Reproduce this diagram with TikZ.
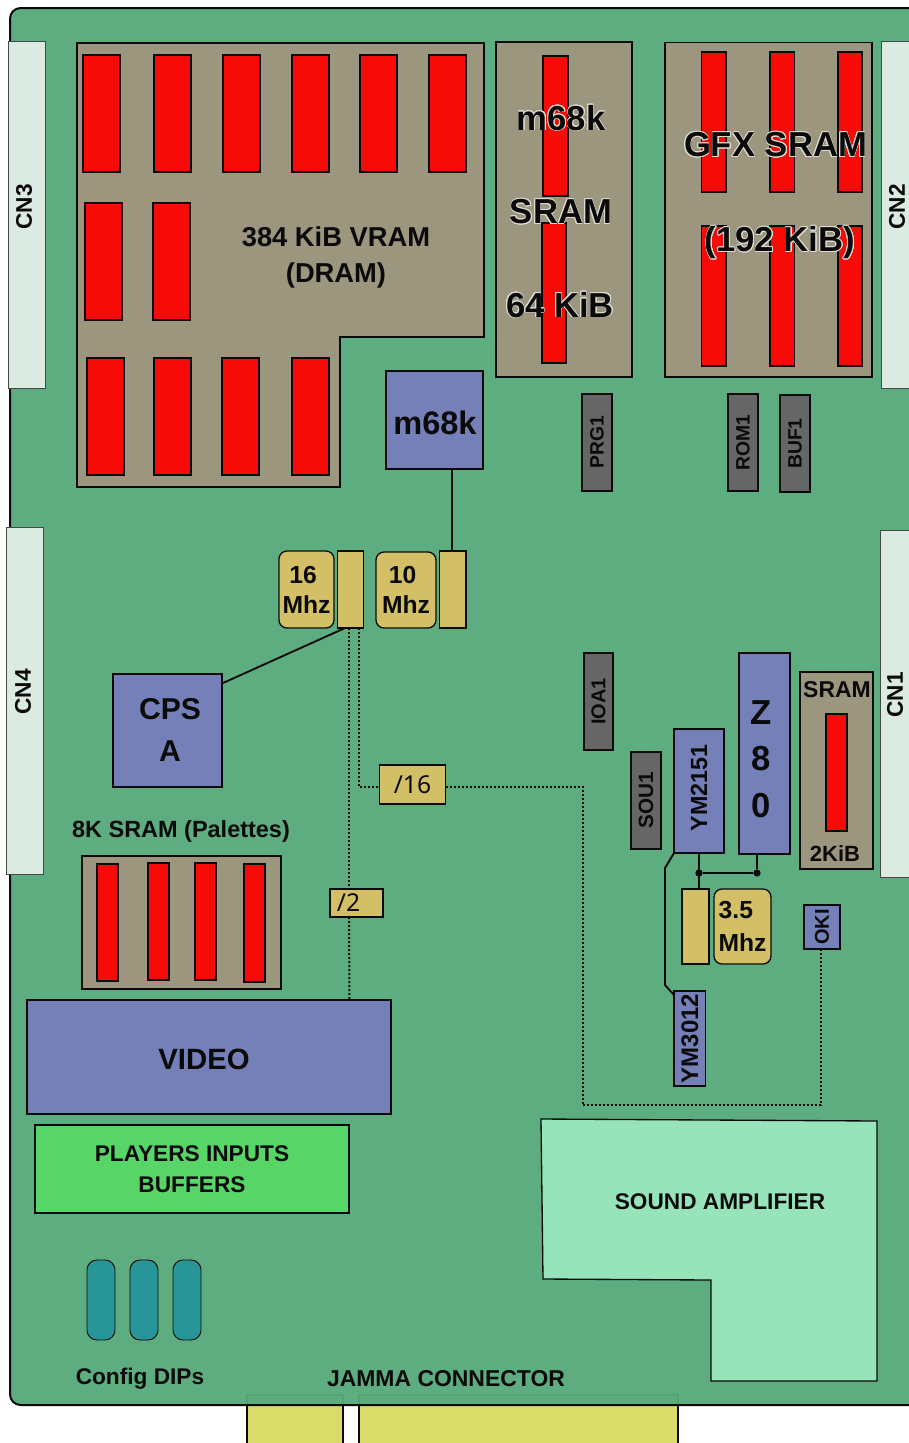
\documentclass[tikz,border=0pt]{standalone}
\usepackage{fontspec}
\usepackage{graphicx}
\usepackage{contour}
\usetikzlibrary{calc}
\setmainfont{Liberation Sans}
\newfontfamily\regfont{Noto Sans}
\definecolor{pcb}{HTML}{57AA7B}
\definecolor{ink}{HTML}{0A0A0A}
\definecolor{ramgrey}{HTML}{9C967F}
\definecolor{ramred}{HTML}{F60B07}
\definecolor{chipblue}{HTML}{7480B7}
\definecolor{chipgrey}{HTML}{666666}
\definecolor{clockyel}{HTML}{D3BF66}
\definecolor{connpale}{HTML}{DBEBE1}
\definecolor{jammay}{HTML}{D9DC68}
\definecolor{inputgreen}{HTML}{57D667}
\definecolor{ampgreen}{HTML}{97E4BA}
\definecolor{diprteal}{HTML}{289698}
\newcommand\bfs[2]{\fontsize{#1}{#2}\selectfont\bfseries}
\newcommand\vlab[2]{\rotatebox{90}{\bfs{#1}{#1}#2}}
\contourlength{0.5pt}
\contournumber{24}
\newcommand\halo[1]{\contour{ramgrey!35!white}{#1}}
% \bx{style}{name}{x0}{y0}{x1}{y1}{text}
\newcommand\bx[7]{%
  \pgfmathsetmacro\bxw{(#5-(#3))*0.75}%
  \pgfmathsetmacro\bxh{(#6-(#4))*0.75}%
  \node[#1,minimum width=\bxw pt,minimum height=\bxh pt] (#2) at ({(#3+#5)/2},{(#4+#6)/2}) {#7};}
\tikzset{
  base/.style={draw=ink,line width=1pt,inner sep=0pt,outer sep=0pt,text=ink,align=center},
  conn/.style={base,fill=connpale,draw=ink!75!white,line width=0.7pt},
  ram/.style={base,fill=ramgrey},
  cell/.style={base,fill=ramred},
  cpu/.style={base,fill=chipblue},
  rom/.style={base,fill=chipgrey},
  xtal/.style={base,fill=clockyel},
  osc/.style={base,fill=clockyel,rounded corners=6pt,font=\bfs{18.5}{22.5}},
  dip/.style={base,fill=diprteal,rounded corners=7.5pt,line width=0.7pt},
  lab/.style={inner sep=0pt,outer sep=0pt,text=ink,align=center},
  wire/.style={draw=ink,line width=1.4pt},
  clk/.style={draw=ink,line width=1.5pt,dash pattern=on 1.5pt off 1.5pt},
  jdot/.style={circle,fill=ink,inner sep=0pt,outer sep=0pt,minimum size=5.5pt}
}
\begin{document}
\begin{tikzpicture}[x=0.75pt,y=-0.75pt]
\clip (0,0) rectangle (909,1443);
\fill[white] (0,0) rectangle (909,1443);
% JAMMA fingers behind the board
\bx{base,fill=jammay}{jammaA}{247}{1395}{343}{1450}{}
\bx{base,fill=jammay}{jammaB}{359}{1395}{678}{1450}{}
% board
\draw[fill=pcb,fill opacity=0.96,draw=ink,line width=1.5pt,rounded corners=8pt]
  (920,8) -- (10,8) -- (10,1405) -- (920,1405);
% edge connectors
\bx{conn}{cnthree}{8}{41}{45}{388}{}
\bx{conn}{cnfour}{6}{527}{43}{874}{}
\bx{conn}{cntwo}{881}{41}{920}{388}{}
\bx{conn}{cnone}{880}{530}{920}{877}{}
\node[lab] (cnthreet) at (24,207) {\vlab{17}{CN3}};
\node[lab] (cnfourt) at (23,692) {\vlab{17}{CN4}};
\node[lab] (cntwot) at (897,207) {\vlab{17}{CN2}};
\node[lab] (cnonet) at (895,695) {\vlab{17}{CN1}};
% VRAM
\draw[fill=ramgrey,draw=ink,line width=1pt] (77,43) -- (484,43) -- (484,337) -- (340,337) -- (340,487) -- (77,487) -- cycle;
\bx{cell}{va}{83}{55}{120}{172}{}
\bx{cell}{vb}{154}{55}{191}{172}{}
\bx{cell}{vc}{223}{55}{260}{172}{}
\bx{cell}{vd}{292}{55}{329}{172}{}
\bx{cell}{ve}{360}{55}{397}{172}{}
\bx{cell}{vf}{429}{55}{466}{172}{}
\bx{cell}{vg}{85}{203}{122}{320}{}
\bx{cell}{vh}{153}{203}{190}{320}{}
\bx{cell}{vi}{87}{358}{124}{475}{}
\bx{cell}{vj}{154}{358}{191}{475}{}
\bx{cell}{vk}{222}{358}{259}{475}{}
\bx{cell}{vl}{292}{358}{329}{475}{}
\node[lab,font=\bfs{20.5}{27.5}] (vramt) at (336,257.5) {384 KiB VRAM\\(DRAM)};
% m68k SRAM
\bx{ram}{msram}{496}{42}{632}{377}{}
\bx{cell}{msa}{543}{56}{568}{196}{}
\bx{cell}{msb}{542}{223}{566}{363}{}
\node[lab,font=\bfs{26}{26}] (mst1) at (561,118) {\halo{m68k}};
\node[lab,font=\bfs{26}{26}] (mst2) at (561,212) {\halo{SRAM}};
\node[lab,font=\bfs{26}{26}] (mst3) at (560,305) {\halo{64 KiB}};
% GFX SRAM
\bx{ram}{gsram}{665}{42.5}{872}{377}{}
\bx{cell}{ga}{701.5}{52}{726}{192}{}
\bx{cell}{gb}{770}{52}{794.5}{192}{}
\bx{cell}{gc}{838}{52}{862}{192}{}
\bx{cell}{gd}{701.5}{226}{726}{366}{}
\bx{cell}{ge}{770}{226}{794.5}{366}{}
\bx{cell}{gf}{838}{226}{862}{366}{}
\node[lab,font=\bfs{26}{26}] (gst1) at (775.5,145) {\halo{GFX SRAM}};
\node[lab,font=\bfs{26}{26}] (gst2) at (780,243) {\halo{(192 KiB)}};
% CPU + ROMs
\bx{cpu}{cpu}{386}{371}{483}{469}{}
\node[lab,font=\bfs{24.4}{24.4}] (cput) at (435,423) {m68k};
\bx{rom}{prg}{582}{394}{612}{491}{\vlab{14.5}{PRG1}}
\bx{rom}{romone}{728}{394}{758}{491}{\vlab{14.5}{ROM1}}
\bx{rom}{buf}{780}{395}{810}{492}{\vlab{14.5}{BUF1}}
\bx{rom}{ioa}{584}{653}{613}{750}{\vlab{15}{IOA1}}
\bx{rom}{sou}{631}{752}{661}{849}{\vlab{15.5}{SOU1}}
% clocks
\bx{osc}{osca}{279}{551}{334}{628}{16\hspace*{5pt}\\Mhz}
\bx{xtal}{xa}{337.5}{551}{363.5}{628}{}
\bx{osc}{oscb}{376}{552}{436}{628}{10\hspace*{5pt}\\Mhz}
\bx{xtal}{xb}{439.5}{551}{466}{628}{}
\bx{osc,font=\bfs{18.5}{24.5}}{oscc}{714}{889}{771}{964}{3.5\hspace*{10pt}\\Mhz}
\bx{xtal}{xc}{682}{889}{709}{964}{}
\bx{xtal}{divsix}{379.5}{765}{445.5}{804}{\regfont\fontsize{18.5}{18.5}\selectfont /16}
\bx{xtal}{divtwo}{330}{889}{383}{917}{\regfont\fontsize{18.5}{18.5}\selectfont /2\hspace*{12pt}}
% CPS A
\bx{cpu}{cpsa}{113}{674}{222}{787}{}
\node[lab,font=\bfs{22.6}{31.5}] (cpst) at (170,730) {CPS\\A};
% palettes
\node[lab,font=\bfs{17.6}{17.6}] (palt) at (181,831) {8K SRAM (Palettes)};
\bx{ram}{pal}{82}{856}{281}{989}{}
\bx{cell}{pa}{97}{864}{118}{981}{}
\bx{cell}{pb}{148}{863}{169}{980}{}
\bx{cell}{pc}{195}{863}{216}{980}{}
\bx{cell}{pd}{244}{864}{265}{982}{}
\bx{cpu}{video}{27}{1000}{391}{1114}{}
\node[lab,font=\bfs{22}{22}] (videot) at (204,1059) {VIDEO};
\bx{base,fill=inputgreen,font=\bfs{17}{23.2}}{inputs}{35}{1125}{349}{1213}{PLAYERS INPUTS\\BUFFERS}
% sound
\bx{cpu}{ymfm}{674}{729}{724}{853}{}
\node[lab] (ymfmt) at (699,788) {\vlab{17.5}{YM2151}};
\bx{cpu}{zeighty}{739}{653}{790}{854}{}
\node[lab,font=\bfs{26}{35}] (zt) at (761,759) {Z\\8\\0};
\bx{ram}{zram}{800}{672}{873}{869}{}
\bx{cell}{zcell}{826}{714}{847}{831}{}
\node[lab,font=\bfs{17.2}{17.2}] (zramt) at (837,690) {SRAM};
\node[lab,font=\bfs{16.5}{16.5}] (zramk) at (835,854) {2KiB};
\bx{cpu}{oki}{804}{905}{840}{949}{\vlab{15}{OKI}}
\bx{cpu}{ymdac}{674}{991}{705.5}{1086}{\vlab{18}{YM3012}}
\draw[fill=ampgreen,draw=ink,line width=1pt] (541,1119) -- (877,1121) -- (877,1381) -- (711,1381) -- (711,1280) -- (543,1279) -- cycle;
\node[lab,font=\bfs{17}{17}] (ampt) at (720,1202) {SOUND AMPLIFIER};
% DIPs
\bx{dip}{dipa}{87}{1260}{115}{1340}{}
\bx{dip}{dipb}{130}{1260}{158}{1340}{}
\bx{dip}{dipc}{173}{1260}{201}{1340}{}
\node[lab,font=\bfs{17}{17}] (dipt) at (140,1379) {Config DIPs};
\node[lab,font=\bfs{17.2}{17.2}] (jammat) at (446,1379) {JAMMA CONNECTOR};
% solid connectors
\draw[wire] ($(cpu.south west)+(66,0)$) -- ($(xb.north west)+(12.5,0)$);
\draw[wire] ($(cpsa.north east)+(1,9)$) -- ($(xa.south west)+(7.5,0)$);
\draw[wire] ($(ymfm.south west)+(25,0)$) -- ($(xc.north west)+(17,0)$);
\coordinate (jl) at ($(ymfm.south west)+(25,20)$);
\coordinate (jr) at ($(zeighty.south west)+(18,19)$);
\node[jdot] (jla) at (jl) {};
\node[jdot] (jra) at (jr) {};
\draw[wire] (jla) -- (jra);
\draw[wire] ($(zeighty.south west)+(18,0)$) -- (jra);
\draw[wire] (ymfm.south west) -- (665,868) -- (665,985) -- ($(ymdac.north west)+(0,4)$);
% clock dividers (dotted)
\draw[clk] ($(xa.south west)+(11.5,0)$) -- ($(divtwo.north west)+(19,0)$);
\draw[clk] ($(divtwo.south west)+(19,0)$) -- ($(video.north west)+(322.5,0)$);
\draw[clk] ($(xa.south west)+(21,0)$) |- ($(divsix.west)+(0,2.2)$);
\draw[clk] ($(divsix.east)+(0,2.2)$) -- (582.5,786.7) -- (582.5,1105) -- (821,1105) -- ($(oki.south west)+(17,0)$);
\end{tikzpicture}
\end{document}
